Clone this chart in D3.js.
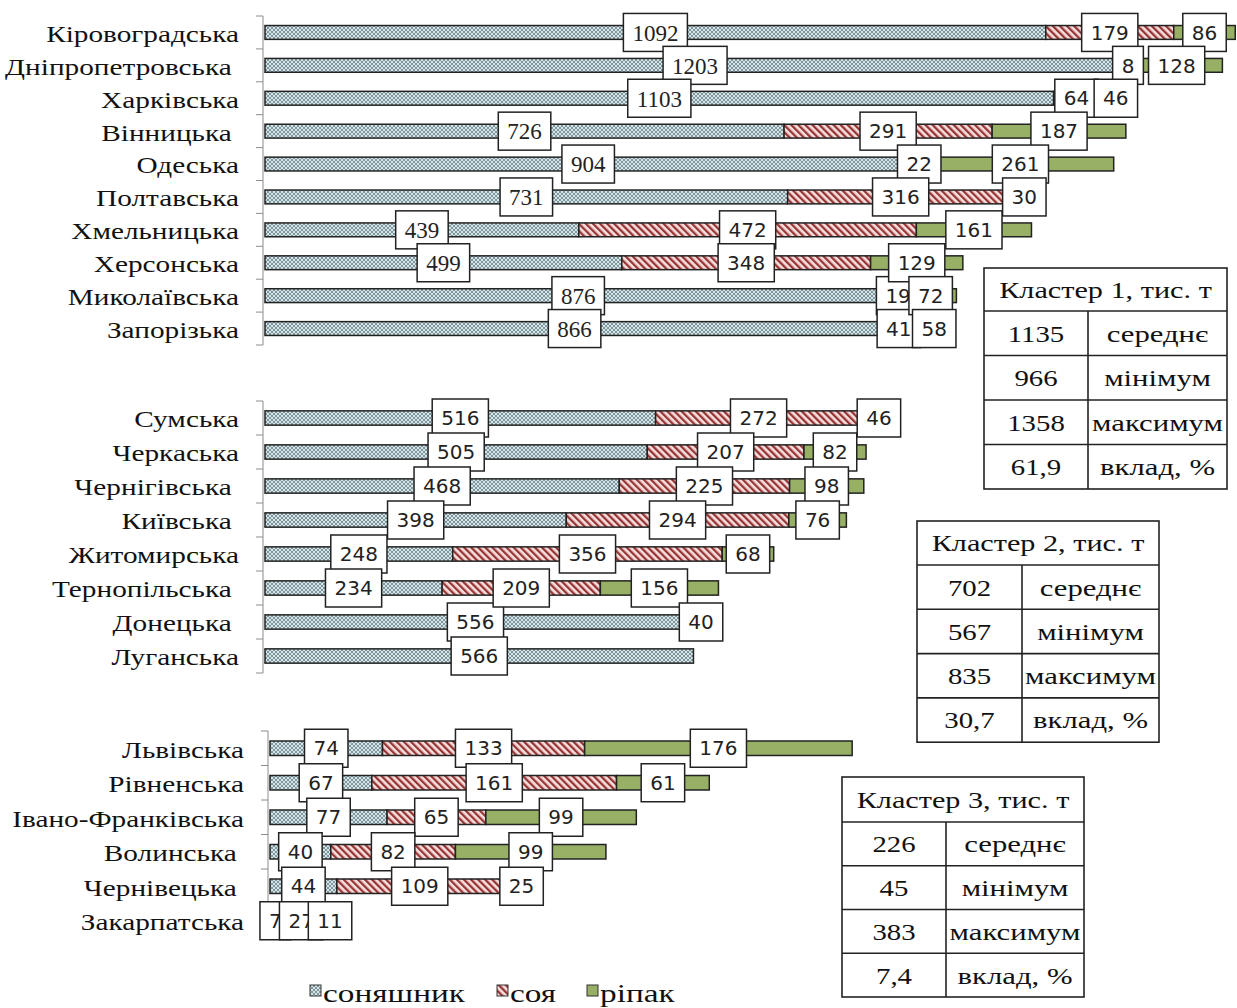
<!DOCTYPE html>
<html>
<head>
<meta charset="utf-8">
<script src="https://cdn.jsdelivr.net/npm/d3@7/dist/d3.min.js"></script>
<style>
  body { margin: 0; background: #fff; }
</style>
</head>
<body>
<div id="chart"></div>
<script>
// культури
var crops = ["соняшник", "соя", "ріпак"];

// кластер 1
var regions1 = ["Кіровоградська", "Дніпропетровська ", "Харківська", "Вінницька ", "Одеська",
    "Полтавська", "Хмельницька", "Херсонська", "Миколаївська", "Запорізька"];
var sun1 = [1092, 1203, 1103, 726, 904, 731, 439, 499, 876, 866];
var soy1 = [179, 8, 64, 291, 22, 316, 472, 348, 19, 41];
var rap1 = [86, 128, 46, 187, 261, 30, 161, 129, 72, 58];

// кластер 2
var regions2 = ["Сумська", "Черкаська", "Чернігівська ", "Київська ", "Житомирська",
    "Тернопільська ", "Донецька ", "Луганська"];
var sun2 = [516, 505, 468, 398, 248, 234, 556, 566];
var soy2 = [272, 207, 225, 294, 356, 209, 0, 0];
var rap2 = [46, 82, 98, 76, 68, 156, 40, 0];

// кластер 3
var regions3 = ["Львівська", "Рівненська", "Івано-Франківська", "Волинська ", "Чернівецька ", "Закарпатська"];
var sun3 = [74, 67, 77, 40, 44, 7];
var soy3 = [133, 161, 65, 82, 109, 27];
var rap3 = [176, 61, 99, 99, 25, 11];

// таблиці
var clusterTitles = ["Кластер 1, тис. т", "Кластер 2, тис. т", "Кластер 3, тис. т"];
var statNames = ["середнє", "мінімум", "максимум", "вклад, %"];
var stats1 = ["1135", "966", "1358", "61,9"];
var stats2 = ["702", "567", "835", "30,7"];
var stats3 = ["226", "45", "383", "7,4"];

var W = 1237, H = 1008;
var SERIF = "'Liberation Serif', 'Times New Roman', serif";
var SANS = "'DejaVu Sans', Verdana, sans-serif";
var keys = ["sun", "soy", "rap"];

var svg = d3.select("#chart").append("svg")
    .attr("width", W)
    .attr("height", H)
    .style("font-family", SERIF);

svg.append("rect").attr("width", W).attr("height", H).attr("fill", "#fff");

// візерунки заливки
var defs = svg.append("defs");
var pSun = defs.append("pattern").attr("id", "pSun")
    .attr("patternUnits", "userSpaceOnUse").attr("width", 4).attr("height", 4);
pSun.append("rect").attr("width", 4).attr("height", 4).attr("fill", "#d8e5e8");
pSun.append("path").attr("d", "M0,0L4,4M4,0L0,4")
    .attr("stroke", "#738e94").attr("stroke-width", 0.9);

var pSoy = defs.append("pattern").attr("id", "pSoy")
    .attr("patternUnits", "userSpaceOnUse").attr("width", 5).attr("height", 5)
    .attr("patternTransform", "rotate(-45)");
pSoy.append("rect").attr("width", 5).attr("height", 5).attr("fill", "#f6dede");
pSoy.append("rect").attr("width", 2.3).attr("height", 5).attr("fill", "#963634");

var fills = {sun: "url(#pSun)", soy: "url(#pSoy)", rap: "#97b066"};

// текст, розтягнутий по горизонталі (як на оригіналі)
function wideText(g, x, y, txt, size, sx, anchor) {
    return g.append("text")
        .attr("transform", "translate(" + x + "," + y + ") scale(" + sx + ",1)")
        .attr("text-anchor", anchor || "middle")
        .attr("dy", "0.35em")
        .style("font-size", size + "px")
        .style("white-space", "pre")
        .attr("fill", "#111")
        .text(txt);
}

var panels = [
    {regions: regions1, sun: sun1, soy: soy1, rap: rap1, axisX: 263, top: 16, bottom: 345,
        x0: 265, k: 0.715, serifSun: true, labelEnd: 239},
    {regions: regions2, sun: sun2, soy: soy2, rap: rap2, axisX: 263, top: 401, bottom: 673,
        x0: 265, k: 0.757, serifSun: false, labelEnd: 239},
    {regions: regions3, sun: sun3, soy: soy3, rap: rap3, axisX: 268, top: 731, bottom: 938,
        x0: 270, k: 1.52, serifSun: false, labelEnd: 244}
];

panels.forEach(function (p) {
    var g = svg.append("g");
    var rows = p.regions.map(function (r, i) {
        return {region: r, sun: p.sun[i], soy: p.soy[i], rap: p.rap[i]};
    });
    var maxV = 1400;
    var x = d3.scaleLinear().domain([0, maxV]).range([p.x0, p.x0 + maxV * p.k]);
    var y = d3.scaleBand().domain(p.regions).range([p.top, p.bottom])
        .paddingInner(0.58).paddingOuter(0.29);
    var step = y.step();

    // вісь
    g.append("line")
        .attr("x1", p.axisX).attr("x2", p.axisX)
        .attr("y1", p.top).attr("y2", p.bottom)
        .attr("stroke", "#8c8c8c").attr("stroke-width", 1);
    g.selectAll(".tick")
        .data(d3.range(p.regions.length + 1))
        .enter().append("line")
        .attr("x1", p.axisX - 7).attr("x2", p.axisX)
        .attr("y1", function (i) { return p.top + i * step; })
        .attr("y2", function (i) { return p.top + i * step; })
        .attr("stroke", "#8c8c8c").attr("stroke-width", 1);

    // підписи областей
    rows.forEach(function (d) {
        wideText(g, p.labelEnd, y(d.region) + y.bandwidth() / 2 + 1, d.region, 24, 1.22, "end");
    });

    var series = d3.stack().keys(keys)(rows);

    series.forEach(function (s) {
        g.selectAll(".bar-" + s.key)
            .data(s.filter(function (d) { return d[1] - d[0] > 0; }))
            .enter().append("rect")
            .attr("x", function (d) { return x(d[0]); })
            .attr("y", function (d) { return y(d.data.region); })
            .attr("width", function (d) { return x(d[1]) - x(d[0]); })
            .attr("height", y.bandwidth())
            .attr("fill", fills[s.key])
            .attr("stroke", "#222")
            .attr("stroke-width", 1.5);
    });

    // підписи значень
    series.forEach(function (s) {
        var serif = s.key === "sun" && p.serifSun;
        s.filter(function (d) { return d[1] - d[0] > 0; }).forEach(function (d) {
            var cx = (x(d[0]) + x(d[1])) / 2;
            var cy = y(d.data.region) + y.bandwidth() / 2;
            var lg = g.append("g");
            var rect = lg.append("rect");
            var t = lg.append("text")
                .attr("x", cx).attr("y", cy).attr("dy", "0.36em")
                .attr("text-anchor", "middle")
                .style("font-family", serif ? SERIF : SANS)
                .style("font-size", serif ? "23px" : "20px")
                .attr("fill", "#222")
                .text(d[1] - d[0]);
            var w = t.node().getComputedTextLength() + 18;
            rect.attr("x", cx - w / 2).attr("y", cy - 19)
                .attr("width", w).attr("height", 38)
                .attr("fill", "#fff")
                .attr("stroke", "#222").attr("stroke-width", 1.5);
        });
    });
});

// таблиці кластерів
var tables = [
    {title: clusterTitles[0], vals: stats1, x: 984, y: 268, w: 243, col: 104, hh: 43, rh: 44.5},
    {title: clusterTitles[1], vals: stats2, x: 917, y: 521, w: 242, col: 105, hh: 44, rh: 44.3},
    {title: clusterTitles[2], vals: stats3, x: 842, y: 777, w: 242, col: 104, hh: 45, rh: 43.75}
];

tables.forEach(function (t) {
    var g = svg.append("g");
    var total = t.hh + t.rh * statNames.length;
    g.append("rect").attr("x", t.x).attr("y", t.y).attr("width", t.w).attr("height", total)
        .attr("fill", "#fff").attr("stroke", "#222").attr("stroke-width", 1.6);
    wideText(g, t.x + t.w / 2, t.y + t.hh / 2, t.title, 24, 1.26);
    g.append("line").attr("x1", t.x + t.col).attr("x2", t.x + t.col)
        .attr("y1", t.y + t.hh).attr("y2", t.y + total)
        .attr("stroke", "#222").attr("stroke-width", 1.6);
    statNames.forEach(function (name, i) {
        var ry = t.y + t.hh + t.rh * i;
        g.append("line").attr("x1", t.x).attr("x2", t.x + t.w)
            .attr("y1", ry).attr("y2", ry)
            .attr("stroke", "#222").attr("stroke-width", 1.6);
        wideText(g, t.x + t.col / 2, ry + t.rh / 2, t.vals[i], 24, 1.2);
        wideText(g, t.x + t.col + (t.w - t.col) / 2, ry + t.rh / 2, name, 24, 1.28);
    });
});

// легенда
var legendX = [310, 497, 587];
var leg = svg.append("g");
crops.forEach(function (c, i) {
    leg.append("rect")
        .attr("x", legendX[i]).attr("y", 985)
        .attr("width", 11).attr("height", 11)
        .attr("fill", fills[keys[i]])
        .attr("stroke", "#333").attr("stroke-width", 1);
    wideText(leg, legendX[i] + 13, 993, c, 26, 1.28, "start");
});
</script>
</body>
</html>
